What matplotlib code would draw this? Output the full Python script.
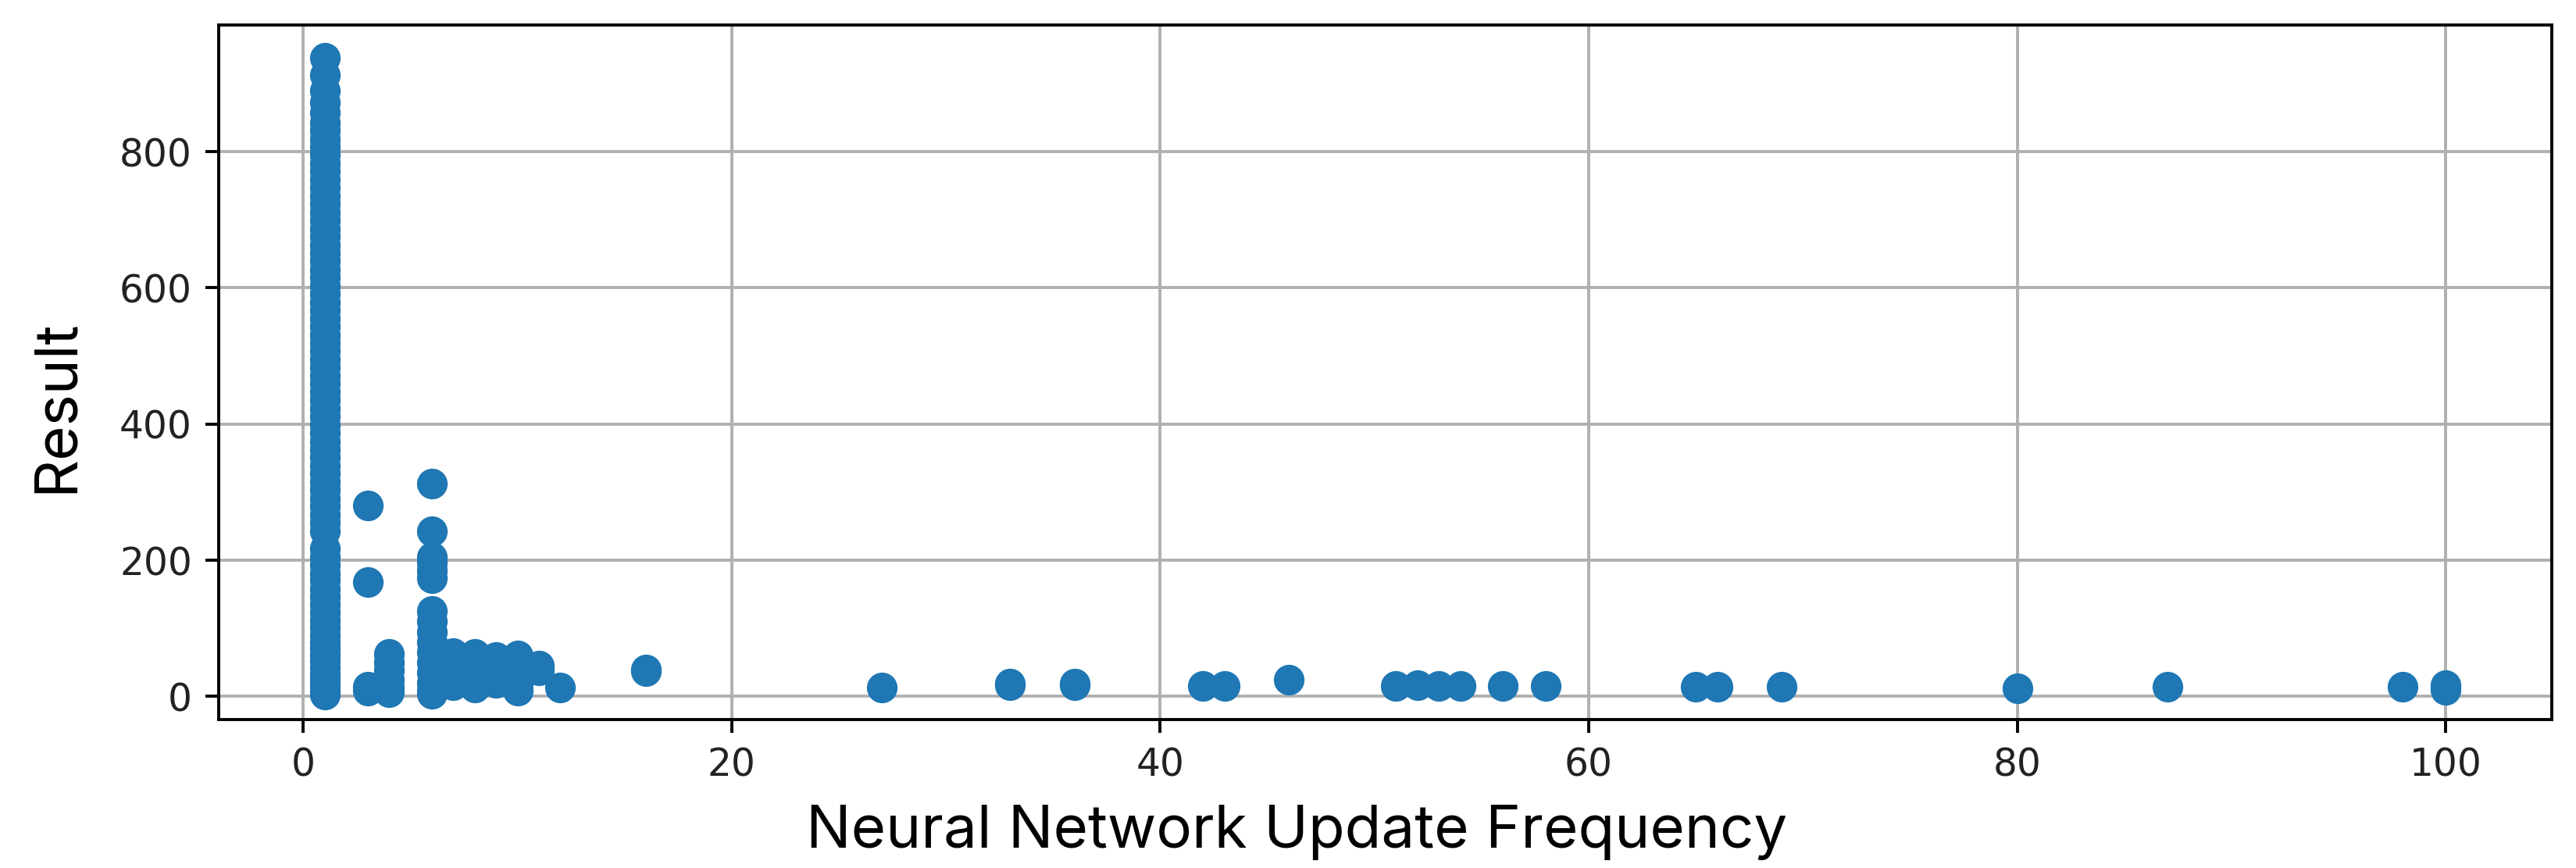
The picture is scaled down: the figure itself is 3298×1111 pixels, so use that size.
import matplotlib
matplotlib.use("Agg")
import matplotlib.pyplot as plt

# ---- data ----
freq_1 = [1] * 78
result_1 = [3, 8, 15, 24, 33, 42, 52, 61, 70, 80, 90, 101, 112, 123, 135, 146, 158,
            170, 181, 193, 205, 217, 243, 255, 267, 279, 291, 303, 315, 327, 339,
            351, 363, 375, 387, 399, 411, 423, 435, 447, 459, 471, 483, 495, 507,
            519, 531, 543, 555, 567, 579, 591, 603, 615, 627, 639, 651, 663, 675,
            687, 699, 711, 723, 735, 747, 759, 771, 783, 795, 807, 819, 831, 843,
            858, 872, 890, 912, 938]

freq_small = [3, 3, 3, 3,
              4, 4, 4, 4, 4, 4,
              6, 6, 6, 6, 6, 6, 6, 6, 6, 6, 6, 6, 6, 6, 6, 6,
              7, 7, 7, 7, 7,
              8, 8, 8, 8, 8,
              9, 9, 9, 9,
              10, 10, 10, 10, 10,
              11, 11, 12, 16, 16]
result_small = [280, 168, 14, 8,
                62, 50, 38, 25, 13, 6,
                312, 243, 205, 197, 185, 174, 125, 110, 95, 80, 65, 50, 35, 20, 8, 4,
                64, 50, 38, 27, 16,
                62, 48, 35, 23, 13,
                58, 45, 32, 20,
                60, 46, 32, 19, 8,
                45, 38, 13, 40, 37]

freq_large = [27, 33, 33, 36, 36, 42, 43, 46, 51, 52, 53, 54, 56, 58,
              65, 66, 69, 80, 87, 98, 100, 100, 100]
result_large = [13, 16, 19, 16, 19, 15, 15, 24, 15, 16, 15, 15, 15, 15,
                14, 14, 14, 12, 14, 14, 10, 14, 17]

x_label = "Neural Network Update Frequency"
y_label = "Result"

# ---- figure ----
W, H, DPI = 3298, 1111, 350
fig = plt.figure(figsize=(W / DPI, H / DPI), dpi=DPI)
ax = fig.add_axes([280 / W, 1 - 921 / H, (3267 - 280) / W, (921 - 32) / H])

x_all = freq_1 + freq_small + freq_large
y_all = result_1 + result_small + result_large
ax.scatter(x_all, y_all, s=50, color="#1f77b4", zorder=3)

ax.set_xlim(-3.95, 104.95)
ax.set_ylim(-34, 986)
ax.set_xticks([0, 20, 40, 60, 80, 100])
ax.set_yticks([0, 200, 400, 600, 800])
ax.grid(True, color="#b0b0b0", linewidth=0.8, zorder=0)
ax.set_axisbelow(True)

for lab in ax.get_xticklabels() + ax.get_yticklabels():
    lab.set_fontfamily("DejaVu Sans")
    lab.set_fontsize(10)
    lab.set_color("#222222")

ax.set_xlabel(x_label, fontsize=15.7, family=["Inter", "DejaVu Sans"], labelpad=5.5)
ax.set_ylabel(y_label, fontsize=15.7, family=["Inter", "DejaVu Sans"], labelpad=9)
ax.xaxis.label.set_x(0.462)
ax.yaxis.label.set_y(0.451)

fig.savefig("out.png", dpi=DPI, facecolor="white")
